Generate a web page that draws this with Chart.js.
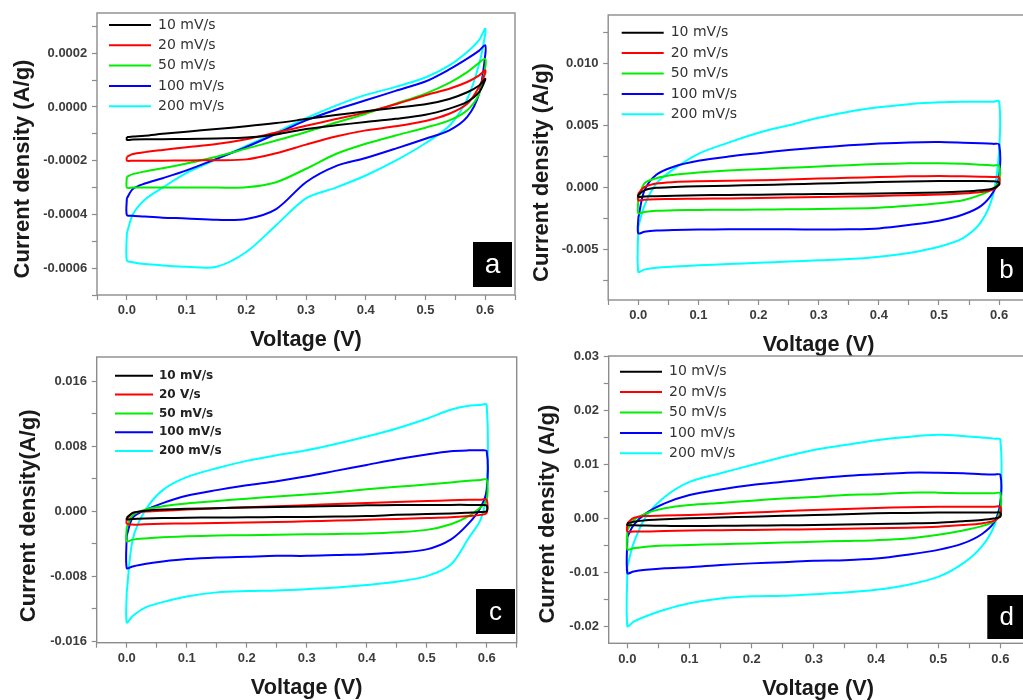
<!DOCTYPE html>
<html><head><meta charset="utf-8">
<script src="https://cdn.jsdelivr.net/npm/chart.js@4.4.0/dist/chart.umd.min.js"></script>
<style>
html,body{margin:0;padding:0;background:#fff;overflow:hidden;width:1023px;height:700px;}
canvas{position:absolute;}
</style></head><body>
<canvas id="ca" width="520" height="355" style="left:0;top:0"></canvas>
<canvas id="cb" width="520" height="360" style="left:520px;top:0"></canvas>
<canvas id="cc" width="520" height="350" style="left:0;top:350px"></canvas>
<canvas id="cd" width="520" height="350" style="left:520px;top:350px"></canvas>
<script>
// Voltage grid (V) shared by every branch
const voltage = [0, 0.01, 0.03, 0.06, 0.1, 0.15, 0.2, 0.25, 0.3, 0.35, 0.4, 0.45, 0.5, 0.54, 0.57, 0.59, 0.6];

const labelsStd = ['10 mV/s', '20 mV/s', '50 mV/s', '100 mV/s', '200 mV/s'];
const labelsC = ['10 mV/s', '20 V/s', '50 mV/s', '100 mV/s', '200 mV/s'];
const colors = ['#000000', '#ff0000', '#00ee00', '#0000ff', '#00ffff'];

// ---- Panel a (A/g): forward (anodic) and reverse (cathodic) branches
const aFwd10 = [-1.12e-4,-1.10e-4,-1.07e-4,-1.00e-4,-0.92e-4,-0.82e-4,-0.72e-4,-0.60e-4,-0.45e-4,-0.30e-4,-0.16e-4,-0.03e-4,0.10e-4,0.30e-4,0.55e-4,0.80e-4,1.05e-4];
const aRev10 = [-1.22e-4,-1.21e-4,-1.20e-4,-1.20e-4,-1.19e-4,-1.17e-4,-1.14e-4,-1.02e-4,-0.82e-4,-0.68e-4,-0.56e-4,-0.44e-4,-0.29e-4,-0.06e-4,0.19e-4,0.55e-4,1.00e-4];
const aFwd20 = [-1.85e-4,-1.75e-4,-1.68e-4,-1.60e-4,-1.50e-4,-1.38e-4,-1.20e-4,-0.95e-4,-0.70e-4,-0.45e-4,-0.20e-4,0.10e-4,0.44e-4,0.68e-4,0.93e-4,1.18e-4,1.37e-4];
const aRev20 = [-2.00e-4,-2.00e-4,-2.00e-4,-2.00e-4,-1.99e-4,-1.98e-4,-1.95e-4,-1.72e-4,-1.40e-4,-1.10e-4,-0.87e-4,-0.72e-4,-0.52e-4,-0.25e-4,0.12e-4,0.75e-4,1.25e-4];
const aFwd50 = [-2.60e-4,-2.50e-4,-2.40e-4,-2.28e-4,-2.10e-4,-1.85e-4,-1.55e-4,-1.25e-4,-0.93e-4,-0.58e-4,-0.25e-4,0.12e-4,0.50e-4,0.90e-4,1.30e-4,1.65e-4,1.80e-4];
const aRev50 = [-3.00e-4,-3.00e-4,-3.00e-4,-3.00e-4,-3.00e-4,-3.00e-4,-2.99e-4,-2.80e-4,-2.30e-4,-1.75e-4,-1.37e-4,-1.06e-4,-0.77e-4,-0.50e-4,-0.12e-4,0.50e-4,1.45e-4];
const aFwd100 = [-3.40e-4,-3.05e-4,-2.85e-4,-2.65e-4,-2.36e-4,-1.93e-4,-1.49e-4,-1.00e-4,-0.50e-4,-0.10e-4,0.25e-4,0.60e-4,0.95e-4,1.40e-4,1.80e-4,2.10e-4,2.30e-4];
const aRev100 = [-4.02e-4,-4.05e-4,-4.08e-4,-4.12e-4,-4.15e-4,-4.20e-4,-4.17e-4,-3.80e-4,-2.80e-4,-2.20e-4,-1.90e-4,-1.55e-4,-1.18e-4,-0.87e-4,-0.37e-4,0.50e-4,1.90e-4];
const aFwd200 = [-4.70e-4,-4.00e-4,-3.45e-4,-3.00e-4,-2.45e-4,-1.95e-4,-1.45e-4,-0.95e-4,-0.42e-4,0.05e-4,0.45e-4,0.75e-4,1.10e-4,1.55e-4,2.05e-4,2.50e-4,2.92e-4];
const aRev200 = [-5.72e-4,-5.78e-4,-5.85e-4,-5.90e-4,-5.95e-4,-5.95e-4,-5.40e-4,-4.40e-4,-3.40e-4,-3.00e-4,-2.55e-4,-2.00e-4,-1.35e-4,-0.70e-4,0.30e-4,1.60e-4,2.70e-4];

// ---- Panel b (A/g)
const bFwd10 = [-0.60e-3,-0.25e-3,-0.05e-3,0.02e-3,0.08e-3,0.13e-3,0.18e-3,0.24e-3,0.30e-3,0.36e-3,0.42e-3,0.47e-3,0.50e-3,0.50e-3,0.50e-3,0.48e-3,0.40e-3];
const bRev10 = [-0.78e-3,-0.75e-3,-0.72e-3,-0.68e-3,-0.65e-3,-0.62e-3,-0.60e-3,-0.57e-3,-0.55e-3,-0.53e-3,-0.50e-3,-0.46e-3,-0.42e-3,-0.35e-3,-0.25e-3,-0.10e-3,0.20e-3];
const bFwd20 = [-0.50e-3,0.00e-3,0.30e-3,0.42e-3,0.48e-3,0.52e-3,0.57e-3,0.62e-3,0.70e-3,0.76e-3,0.82e-3,0.88e-3,0.90e-3,0.88e-3,0.85e-3,0.83e-3,0.80e-3];
const bRev20 = [-1.05e-3,-1.00e-3,-0.97e-3,-0.95e-3,-0.92e-3,-0.90e-3,-0.87e-3,-0.83e-3,-0.78e-3,-0.74e-3,-0.70e-3,-0.65e-3,-0.58e-3,-0.50e-3,-0.38e-3,-0.20e-3,0.30e-3];
const bFwd50 = [-1.00e-3,0.30e-3,0.73e-3,1.00e-3,1.19e-3,1.35e-3,1.46e-3,1.57e-3,1.67e-3,1.78e-3,1.87e-3,1.93e-3,1.94e-3,1.90e-3,1.82e-3,1.76e-3,1.73e-3];
const bRev50 = [-2.10e-3,-2.00e-3,-1.90e-3,-1.85e-3,-1.83e-3,-1.82e-3,-1.80e-3,-1.78e-3,-1.76e-3,-1.72e-3,-1.65e-3,-1.50e-3,-1.30e-3,-1.05e-3,-0.60e-3,-0.10e-3,0.50e-3];
const bFwd100 = [-2.50e-3,-0.30e-3,1.00e-3,1.67e-3,2.13e-3,2.48e-3,2.75e-3,3.00e-3,3.20e-3,3.38e-3,3.52e-3,3.62e-3,3.65e-3,3.60e-3,3.55e-3,3.50e-3,3.45e-3];
const bRev100 = [-3.72e-3,-3.60e-3,-3.50e-3,-3.45e-3,-3.42e-3,-3.40e-3,-3.40e-3,-3.40e-3,-3.42e-3,-3.40e-3,-3.32e-3,-3.05e-3,-2.70e-3,-2.20e-3,-1.50e-3,-0.40e-3,0.90e-3];
const bFwd200 = [-3.20e-3,-1.50e-3,0.30e-3,1.50e-3,2.70e-3,3.60e-3,4.40e-3,5.00e-3,5.60e-3,6.10e-3,6.45e-3,6.70e-3,6.85e-3,6.90e-3,6.90e-3,6.90e-3,6.93e-3];
const bRev200 = [-6.82e-3,-6.65e-3,-6.50e-3,-6.40e-3,-6.30e-3,-6.20e-3,-6.10e-3,-6.00e-3,-5.90e-3,-5.80e-3,-5.60e-3,-5.30e-3,-4.80e-3,-4.10e-3,-2.80e-3,-0.60e-3,3.00e-3];

// ---- Panel c (A/g)
const cFwd10 = [-0.80e-3,-0.20e-3,0.05e-3,0.20e-3,0.30e-3,0.38e-3,0.45e-3,0.52e-3,0.58e-3,0.65e-3,0.72e-3,0.77e-3,0.78e-3,0.78e-3,0.78e-3,0.76e-3,0.70e-3];
const cRev10 = [-1.00e-3,-0.95e-3,-0.90e-3,-0.85e-3,-0.80e-3,-0.78e-3,-0.75e-3,-0.72e-3,-0.70e-3,-0.65e-3,-0.60e-3,-0.45e-3,-0.35e-3,-0.28e-3,-0.18e-3,-0.10e-3,0.00e-3];
const cFwd20 = [-1.00e-3,-0.20e-3,-0.05e-3,0.05e-3,0.20e-3,0.35e-3,0.50e-3,0.62e-3,0.75e-3,0.88e-3,1.00e-3,1.12e-3,1.25e-3,1.35e-3,1.40e-3,1.42e-3,1.40e-3];
const cRev20 = [-1.50e-3,-1.65e-3,-1.60e-3,-1.55e-3,-1.50e-3,-1.45e-3,-1.40e-3,-1.32e-3,-1.25e-3,-1.15e-3,-1.05e-3,-0.95e-3,-0.85e-3,-0.75e-3,-0.60e-3,-0.45e-3,-0.20e-3];
const cFwd50 = [-2.00e-3,-0.50e-3,0.20e-3,0.60e-3,0.95e-3,1.25e-3,1.55e-3,1.80e-3,2.05e-3,2.35e-3,2.70e-3,3.00e-3,3.30e-3,3.55e-3,3.75e-3,3.85e-3,3.90e-3];
const cRev50 = [-3.70e-3,-3.50e-3,-3.35e-3,-3.20e-3,-3.10e-3,-3.00e-3,-2.95e-3,-2.90e-3,-2.85e-3,-2.80e-3,-2.75e-3,-2.60e-3,-2.30e-3,-1.60e-3,-0.60e-3,0.50e-3,1.40e-3];
const cFwd100 = [-3.00e-3,-0.80e-3,0.10e-3,1.00e-3,1.90e-3,2.60e-3,3.20e-3,3.70e-3,4.30e-3,5.00e-3,5.70e-3,6.40e-3,7.00e-3,7.40e-3,7.50e-3,7.50e-3,7.40e-3];
const cRev100 = [-7.00e-3,-6.80e-3,-6.50e-3,-6.20e-3,-5.90e-3,-5.70e-3,-5.60e-3,-5.50e-3,-5.50e-3,-5.40e-3,-5.30e-3,-5.10e-3,-4.70e-3,-3.50e-3,-1.50e-3,0.50e-3,2.60e-3];
const cFwd200 = [-10.0e-3,-3.50e-3,0.00e-3,2.60e-3,4.20e-3,5.30e-3,6.20e-3,6.90e-3,7.50e-3,8.30e-3,9.20e-3,10.2e-3,11.4e-3,12.5e-3,13.0e-3,13.1e-3,13.1e-3];
const cRev200 = [-13.7e-3,-12.9e-3,-11.9e-3,-11.2e-3,-10.5e-3,-10.0e-3,-9.84e-3,-9.76e-3,-9.60e-3,-9.40e-3,-9.10e-3,-8.70e-3,-8.00e-3,-6.60e-3,-3.30e-3,-1.00e-3,2.60e-3];

// ---- Panel d (A/g)
const dFwd10 = [-1.00e-3,-0.70e-3,-0.40e-3,-0.25e-3,-0.06e-3,0.10e-3,0.25e-3,0.40e-3,0.55e-3,0.70e-3,0.86e-3,0.95e-3,1.00e-3,1.00e-3,1.00e-3,1.00e-3,1.00e-3];
const dRev10 = [-1.30e-3,-1.35e-3,-1.40e-3,-1.45e-3,-1.50e-3,-1.45e-3,-1.40e-3,-1.35e-3,-1.30e-3,-1.20e-3,-1.10e-3,-1.00e-3,-0.86e-3,-0.60e-3,-0.37e-3,-0.10e-3,0.25e-3];
const dFwd20 = [-1.00e-3,0.00e-3,0.37e-3,0.45e-3,0.55e-3,0.75e-3,1.00e-3,1.25e-3,1.50e-3,1.68e-3,1.85e-3,2.00e-3,2.10e-3,2.10e-3,2.10e-3,2.10e-3,2.10e-3];
const dRev20 = [-2.50e-3,-2.50e-3,-2.50e-3,-2.40e-3,-2.30e-3,-2.25e-3,-2.20e-3,-2.15e-3,-2.10e-3,-2.00e-3,-1.90e-3,-1.80e-3,-1.60e-3,-1.30e-3,-1.00e-3,-0.50e-3,0.55e-3];
const dFwd50 = [-2.20e-3,-0.40e-3,0.86e-3,1.80e-3,2.40e-3,2.80e-3,3.20e-3,3.60e-3,3.90e-3,4.25e-3,4.40e-3,4.70e-3,4.70e-3,4.60e-3,4.60e-3,4.60e-3,4.60e-3];
const dRev50 = [-5.80e-3,-5.60e-3,-5.30e-3,-5.10e-3,-5.00e-3,-4.85e-3,-4.70e-3,-4.55e-3,-4.40e-3,-4.25e-3,-4.10e-3,-3.80e-3,-3.10e-3,-2.30e-3,-1.50e-3,-0.60e-3,1.50e-3];
const dFwd100 = [-3.50e-3,-1.30e-3,0.86e-3,2.70e-3,4.25e-3,5.30e-3,6.10e-3,6.70e-3,7.30e-3,7.80e-3,8.10e-3,8.40e-3,8.40e-3,8.30e-3,8.10e-3,8.05e-3,8.00e-3];
const dRev100 = [-10.2e-3,-9.90e-3,-9.60e-3,-9.30e-3,-9.10e-3,-8.70e-3,-8.40e-3,-8.20e-3,-7.90e-3,-7.80e-3,-7.50e-3,-6.80e-3,-5.90e-3,-4.70e-3,-3.00e-3,-0.80e-3,2.70e-3];
const dFwd200 = [-9.00e-3,-4.70e-3,0.25e-3,3.90e-3,6.70e-3,8.30e-3,9.80e-3,11.3e-3,12.6e-3,13.5e-3,14.4e-3,15.0e-3,15.4e-3,15.2e-3,14.9e-3,14.7e-3,14.5e-3];
const dRev200 = [-20.0e-3,-19.2e-3,-18.2e-3,-17.0e-3,-15.8e-3,-14.9e-3,-14.5e-3,-14.4e-3,-14.1e-3,-13.8e-3,-13.3e-3,-12.4e-3,-10.9e-3,-8.40e-3,-5.30e-3,-1.50e-3,3.30e-3];

const FONT = "'Liberation Sans', Arial, sans-serif";
Chart.defaults.font.family = FONT;

function loopPoints(v, fwd, rev) {
  const pts = [];
  for (let i = 0; i < v.length; i++) pts.push({x: v[i], y: fwd[i]});
  for (let i = v.length - 1; i >= 0; i--) pts.push({x: v[i], y: rev[i]});
  pts.push({x: v[0], y: fwd[0]});
  return pts;
}
function tickFmt(minor, dec) {
  return (v) => {
    if (Math.round(v / minor) % 2 !== 0) return '';
    const val = Math.abs(v) < 1e-12 ? 0 : v;
    return val.toFixed(dec);
  };
}

const framePlugin = {
  id: 'frame',
  beforeDatasetsDraw(chart) {
    const a = chart.chartArea, ctx = chart.ctx;
    ctx.save(); ctx.strokeStyle = '#8c8c8c'; ctx.lineWidth = 1.4;
    ctx.strokeRect(a.left, a.top, a.right - a.left, a.bottom - a.top);
    ctx.restore();
  }
};
const nudgePlugin = {
  id: 'nudge',
  afterLayout(chart, args, o) {
    const y = chart.scales.y; y.top += o.titleShift; y.bottom += o.titleShift;
    const lg = chart.legend, ca = chart.chartArea;
    if (lg) {
      const h = ca.bottom - ca.top;
      lg.left = ca.left + o.lx; lg.right = ca.right;
      lg.top = ca.top + o.ly; lg.bottom = lg.top + h;
    }
  }
};
const tagPlugin = {
  id: 'tag',
  afterDraw(chart, args, o) {
    const a = chart.chartArea, ctx = chart.ctx;
    const x0 = a.right - o.dx - o.w, y0 = a.bottom - o.dy - o.h;
    ctx.save();
    ctx.fillStyle = '#000'; ctx.fillRect(x0, y0, o.w, o.h);
    ctx.fillStyle = '#fff'; ctx.font = o.size + 'px ' + FONT;
    ctx.textAlign = 'center'; ctx.textBaseline = 'middle';
    ctx.fillText(o.text, x0 + o.w / 2, y0 + o.h / 2 + 1);
    ctx.restore();
  }
};

function build(id, p) {
  const datasets = p.labels.map((lab, i) => ({
    label: lab,
    data: loopPoints(voltage, p.fwd[i], p.rev[i]),
    borderColor: colors[i], backgroundColor: colors[i],
    borderWidth: 2, pointRadius: 0, pointHoverRadius: 0,
    showLine: true, tension: 0.3, fill: false
  }));
  const tickFont = {family: FONT, size: 13, weight: 'bold', lineHeight: 1.2};
  const gridOpt = {drawOnChartArea: false, drawTicks: true, tickLength: 5, color: '#8c8c8c', tickWidth: 1.2};
  return new Chart(document.getElementById(id), {
    type: 'scatter',
    data: {datasets},
    options: {
      responsive: false, animation: false, events: [],
      layout: {padding: p.pad},
      scales: {
        x: {
          type: 'linear', min: p.xMin, max: p.xMax,
          afterFit: (s) => { s.height = p.xH; s.paddingLeft = 0; s.paddingRight = 0; },
          ticks: {stepSize: 0.05, includeBounds: false, autoSkip: false, maxRotation: 0, minRotation: 0,
                  padding: 3, color: '#3c3c3c', font: tickFont, callback: tickFmt(0.05, 1)},
          grid: gridOpt, border: {display: false},
          title: {display: true, text: 'Voltage (V)', color: '#1a1a1a',
                  font: {family: FONT, size: 21.7, weight: 'bold', lineHeight: 1},
                  padding: {top: 0, bottom: p.xTitlePad}}
        },
        y: {
          type: 'linear', min: p.yMin, max: p.yMax,
          afterFit: (s) => { s.width = p.yW; s.paddingTop = 0; s.paddingBottom = 0; },
          ticks: {stepSize: p.yStep, includeBounds: false, autoSkip: false,
                  padding: 4.7, color: '#3c3c3c', font: tickFont, callback: tickFmt(p.yStep, p.yDec)},
          grid: gridOpt, border: {display: false},
          title: {display: true, text: p.yTitle, color: '#1a1a1a',
                  font: {family: FONT, size: 22, weight: 'bold', lineHeight: 1},
                  padding: {top: p.yTitlePad, bottom: 0}}
        }
      },
      plugins: {
        tooltip: {enabled: false},
        legend: {
          position: 'chartArea', align: 'start',
          labels: {usePointStyle: true, pointStyle: 'line', pointStyleWidth: p.lgW,
                   padding: p.lgPad, color: p.lgColor,
                   font: {family: "'DejaVu Sans', Verdana, sans-serif", size: p.lgSize, weight: p.lgWeight}}
        },
        nudge: {titleShift: p.titleShift, lx: p.lx, ly: p.ly},
        tag: p.tag
      }
    },
    plugins: [framePlugin, nudgePlugin, tagPlugin]
  });
}

build('ca', {
  labels: labelsStd,
  fwd: [aFwd10, aFwd20, aFwd50, aFwd100, aFwd200],
  rev: [aRev10, aRev20, aRev50, aRev100, aRev200],
  pad: {left: 0, top: 13, right: 5, bottom: 0}, yW: 97, xH: 60,
  xMin: -0.05, xMax: 0.65, yMin: -0.0007, yMax: 0.00035, yStep: 0.0001, yDec: 4,
  yTitle: 'Current density (A/g)', yTitlePad: 12.2, xTitlePad: 4.2, titleShift: 15,
  lgW: 42, lgPad: 6.3, lgSize: 14, lgWeight: 'normal', lgColor: '#333333', lx: 5.7, ly: -1.3,
  tag: {text: 'a', dx: 3, dy: 8, w: 39, h: 45, size: 28}
});
build('cb', {
  labels: labelsStd,
  fwd: [bFwd10, bFwd20, bFwd50, bFwd100, bFwd200],
  rev: [bRev10, bRev20, bRev50, bRev100, bRev200],
  pad: {left: 0, top: 15, right: 10.8, bottom: 0}, yW: 88.2, xH: 60,
  xMin: -0.05, xMax: 0.65, yMin: -0.0091, yMax: 0.0139, yStep: 0.0025, yDec: 3,
  yTitle: 'Current density (A/g)', yTitlePad: 10.9, xTitlePad: 4.2, titleShift: 15,
  lgW: 42, lgPad: 6.4, lgSize: 14, lgWeight: 'normal', lgColor: '#333333', lx: 7.1, ly: 4.3,
  tag: {text: 'b', dx: 3.2, dy: 8, w: 39, h: 45, size: 26}
});
build('cc', {
  labels: labelsC,
  fwd: [cFwd10, cFwd20, cFwd50, cFwd100, cFwd200],
  rev: [cRev10, cRev20, cRev50, cRev100, cRev200],
  pad: {left: 0, top: 7, right: 3.3, bottom: 0}, yW: 96.7, xH: 57.3,
  xMin: -0.05, xMax: 0.65, yMin: -0.0162, yMax: 0.019, yStep: 0.004, yDec: 3,
  yTitle: 'Current density(A/g)', yTitlePad: 17.9, xTitlePad: 1.2, titleShift: 16,
  lgW: 38, lgPad: 6.8, lgSize: 12, lgWeight: 'bold', lgColor: '#222222', lx: 11.5, ly: 6,
  tag: {text: 'c', dx: 1.7, dy: 8.7, w: 39, h: 45, size: 26}
});
build('cd', {
  labels: labelsStd,
  fwd: [dFwd10, dFwd20, dFwd50, dFwd100, dFwd200],
  rev: [dRev10, dRev20, dRev50, dRev100, dRev200],
  pad: {left: 0, top: 6, right: 12.3, bottom: 0}, yW: 88.7, xH: 56.7,
  xMin: -0.03, xMax: 0.644, yMin: -0.0232, yMax: 0.03, yStep: 0.005, yDec: 2,
  yTitle: 'Current density (A/g)', yTitlePad: 17.2, xTitlePad: 0, titleShift: 14.5,
  lgW: 42, lgPad: 6.4, lgSize: 14, lgWeight: 'normal', lgColor: '#333333', lx: 4.9, ly: 2.3,
  tag: {text: 'd', dx: 1.4, dy: 4.3, w: 39, h: 44, size: 26}
});
</script>
</body></html>
